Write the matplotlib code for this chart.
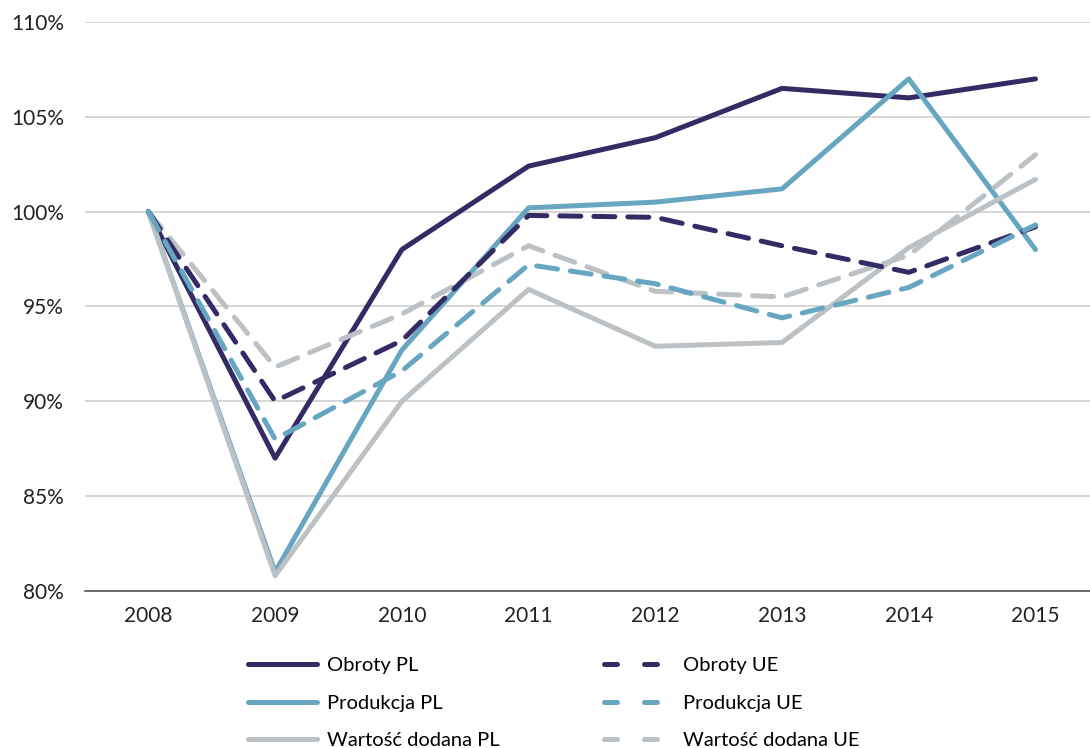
import matplotlib
matplotlib.use('Agg')
import matplotlib.pyplot as plt
from matplotlib.lines import Line2D
from matplotlib.ticker import FuncFormatter

# dane (2008 = 100%)
years = ['2008', '2009', '2010', '2011', '2012', '2013', '2014', '2015']
obroty_pl = [100, 87.0, 98.0, 102.4, 103.9, 106.5, 106.0, 107.0]
produkcja_pl = [100, 81.0, 92.7, 100.2, 100.5, 101.2, 107.0, 98.0]
wartosc_pl = [100, 80.8, 90.0, 95.9, 92.9, 93.1, 98.1, 101.7]
obroty_ue = [100, 90.0, 93.2, 99.8, 99.7, 98.2, 96.8, 99.2]
produkcja_ue = [100, 88.0, 91.6, 97.2, 96.2, 94.4, 96.0, 99.3]
wartosc_ue = [100, 91.8, 94.6, 98.2, 95.8, 95.5, 97.7, 103.0]

navy = '#342a64'
teal = '#67a6c1'
grey = '#bcc1c5'

plt.rcParams['font.family'] = ['Lato', 'DejaVu Sans']

fig = plt.figure(figsize=(10.9, 7.48), dpi=100)
ax = fig.add_axes([0.078, 0.21, 0.922, 0.7606])

x = range(len(years))
lw = 3.6
dash = (4.2, 2.6)

series = [
    (obroty_pl, navy, '-', 'Obroty PL'),
    (produkcja_pl, teal, '-', 'Produkcja PL'),
    (wartosc_pl, grey, '-', 'Wartość dodana PL'),
    (wartosc_ue, grey, '--', 'Wartość dodana UE'),
    (obroty_ue, navy, '--', 'Obroty UE'),
    (produkcja_ue, teal, '--', 'Produkcja UE'),
]
handles = {}
for vals, col, ls, name in series:
    if ls == '--':
        ax.plot(x, vals, color=col, lw=lw, linestyle=(0, dash),
                dash_capstyle='round', solid_joinstyle='round')
        # w legendzie krótsze kreski, jak w oryginale
        handles[name] = Line2D([], [], color=col, lw=lw, linestyle=(0, (2.6, 5.4)),
                               dash_capstyle='round')
    else:
        ln, = ax.plot(x, vals, color=col, lw=lw, solid_capstyle='round',
                      solid_joinstyle='round')
        handles[name] = ln

ax.set_ylim(80, 110)
ax.set_yticks(range(80, 111, 5))
ax.yaxis.set_major_formatter(FuncFormatter(lambda v, p: '%d%%' % v))
ax.set_xlim(-0.5, 7.43)
ax.set_xticks(list(x))
ax.set_xticklabels(years)
ax.tick_params(axis='both', length=0, labelsize=15, colors='#222222')
ax.tick_params(axis='x', pad=11)
ax.tick_params(axis='y', pad=15)

ax.grid(axis='y', color='#d0d0d0', lw=1.2)
ax.set_axisbelow(True)
for s in ['top', 'right', 'left']:
    ax.spines[s].set_visible(False)
ax.spines['bottom'].set_color('#555555')
ax.spines['bottom'].set_linewidth(1.2)

order = ['Obroty PL', 'Produkcja PL', 'Wartość dodana PL',
         'Obroty UE', 'Produkcja UE', 'Wartość dodana UE']
fig.legend([handles[n] for n in order], order, ncol=2, loc='upper left',
           bbox_to_anchor=(0.211, 0.146), frameon=False, fontsize=14.5,
           handlelength=3.4, handletextpad=0.5, columnspacing=5.2,
           labelspacing=1.02)

plt.savefig('out.png', dpi=100)
